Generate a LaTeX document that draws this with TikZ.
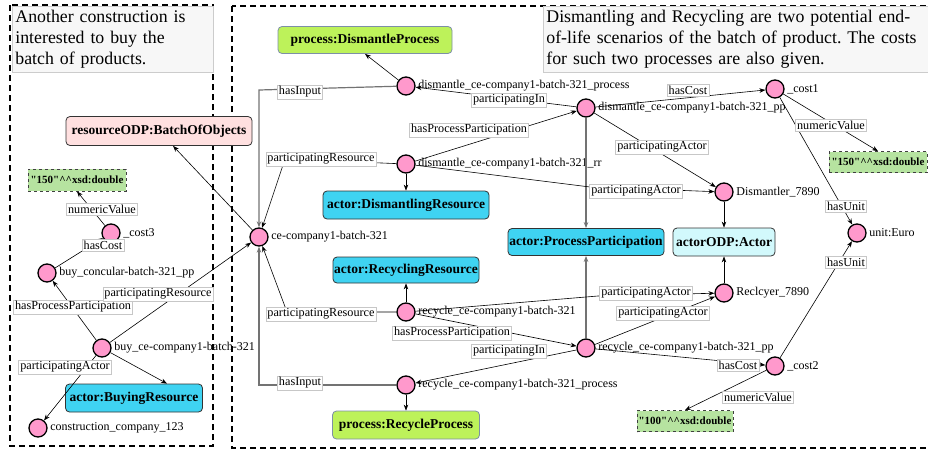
\documentclass[tikz,border=0pt]{standalone}
\usepackage{fontspec}
\setmainfont{Liberation Serif}
\usetikzlibrary{arrows.meta}
\definecolor{indpink}{HTML}{FF99CC}
\definecolor{procgreen}{HTML}{BDF25A}
\definecolor{procborder}{HTML}{7D8FA6}
\definecolor{actorblue}{HTML}{3FD3F2}
\definecolor{odpcyan}{HTML}{D2F9FC}
\definecolor{respink}{HTML}{FFE0E0}
\definecolor{litgreen}{HTML}{B6E3A0}
\definecolor{notefill}{HTML}{F7F7F7}
\definecolor{noteborder}{HTML}{CCCCCC}
\newcommand{\litq}{\textquotedbl}
\begin{document}
\frenchspacing
\begin{tikzpicture}[x=1pt,y=-1pt,
  ind/.style={circle, draw=black, line width=1.3pt, fill=indpink, minimum size=18pt, inner sep=0pt},
  ntxt/.style={font=\fontsize{12}{13}\selectfont, inner sep=1pt, label distance=1.5pt},
  elbl/.style={draw=black!22, fill=white, font=\fontsize{12.2}{13}\selectfont, inner sep=1.6pt},
  boxbase/.style={rounded corners=4pt, font=\bfseries\fontsize{13.5}{15}\selectfont, inner xsep=1pt, inner ysep=1pt},
  procbox/.style={boxbase, draw=procborder, line width=0.8pt, fill=procgreen},
  actbox/.style={boxbase, draw=black!80, line width=0.8pt, fill=actorblue},
  odpbox/.style={boxbase, draw=black!80, line width=0.8pt, fill=odpcyan},
  resbox/.style={boxbase, draw=black!80, line width=0.8pt, fill=respink},
  litbox/.style={draw=black!75, dashed, line width=0.7pt, fill=litgreen, font=\bfseries\fontsize{11}{12}\selectfont, inner sep=1pt},
  notebox/.style={draw=noteborder, fill=notefill, line width=0.8pt, align=left, font=\fontsize{17.8}{21}\selectfont, inner xsep=3pt, inner ysep=2pt},
  frame/.style={draw=black, line width=1.8pt, dash pattern=on 6pt off 4pt},
  edge/.style={draw=black, line width=0.6pt, -{Stealth[length=6pt,width=4.5pt]}},
  gedge/.style={draw=black!55, line width=1.2pt, -{Stealth[length=6pt,width=4.5pt]}}
]
\useasboundingbox (0,0) rectangle (928,450);

% frames
\draw[frame] (10,5) rectangle (213,446);
\draw[frame] (232,6) rectangle (932,448);

% notes
\node[notebox, text width=195pt, minimum height=66pt, anchor=north west] (noteL) at (12,6)
  {Another construction is\\interested to buy the\\batch of products.};
\node[notebox, text width=400pt, minimum height=66pt, anchor=north west] (noteR) at (543,6)
  {Dismantling and Recycling are two potential end-\\of-life scenarios of the batch of product. The costs\\for such two processes are also given.};

% class / literal boxes
\node[procbox, minimum width=174pt, minimum height=27pt] (dproc) at (365,40) {process:DismantleProcess};
\node[resbox, minimum width=186pt, minimum height=29pt] (batch) at (159,131) {resourceODP:BatchOfObjects};
\node[litbox, minimum width=98pt, minimum height=22pt] (litA) at (77,180) {\litq150\litq\textasciicircum\textasciicircum xsd:double};
\node[actbox, minimum width=166pt, minimum height=28pt] (dres) at (406,205) {actor:DismantlingResource};
\node[actbox, minimum width=146pt, minimum height=26pt] (rres) at (406,270) {actor:RecyclingResource};
\node[actbox, minimum width=156pt, minimum height=27pt] (ppart) at (586,242) {actor:ProcessParticipation};
\node[odpbox, minimum width=102pt, minimum height=28pt] (aodp) at (724,242) {actorODP:Actor};
\node[litbox, minimum width=98pt, minimum height=21pt] (litB) at (878,162) {\litq150\litq\textasciicircum\textasciicircum xsd:double};
\node[actbox, minimum width=137pt, minimum height=28pt] (bres) at (134,398) {actor:BuyingResource};
\node[procbox, minimum width=147pt, minimum height=28pt] (rproc) at (406,425) {process:RecycleProcess};
\node[litbox, minimum width=96pt, minimum height=21pt] (litC) at (685,421) {\litq100\litq\textasciicircum\textasciicircum xsd:double};

% individuals
\node[ind, label={[ntxt,name=dpT]right:dismantle\_ce-company1-batch-321\_process}] (dp) at (406,86) {};
\node[ind, label={[ntxt,name=dppT]right:dismantle\_ce-company1-batch-321\_pp}] (dpp) at (586,108) {};
\node[ind, label={[ntxt,name=c1T]right:\_cost1}] (c1) at (775,89) {};
\node[ind, label={[ntxt,name=drrT]right:dismantle\_ce-company1-batch-321\_rr}] (drr) at (406,164) {};
\node[ind, label={[ntxt,name=disT]right:Dismantler\_7890}] (dis) at (724,192) {};
\node[ind, label={[ntxt,name=ceT]right:ce-company1-batch-321}] (ce) at (259,237) {};
\node[ind, label={[ntxt,name=euroT]right:unit:Euro}] (euro) at (857,233) {};
\node[ind, label={[ntxt,name=c3T]right:\_cost3}] (c3) at (111,233) {};
\node[ind, label={[ntxt,name=bppT]right:buy\_concular-batch-321\_pp}] (bpp) at (47,273) {};
\node[ind, label={[ntxt,name=rcyT]right:Reclcyer\_7890}] (rcy) at (724,293) {};
\node[ind, label={[ntxt,name=rrrT]right:recycle\_ce-company1-batch-321}] (rrr) at (406,312) {};
\node[ind, label={[ntxt,name=rppT]right:recycle\_ce-company1-batch-321\_pp}] (rpp) at (586,348) {};
\node[ind, label={[ntxt,name=c2T]right:\_cost2}] (c2) at (775,366) {};
\node[ind, label={[ntxt,name=buyT]right:buy\_ce-company1-batch-321}] (buy) at (102,348) {};
\node[ind, label={[ntxt,name=rpT]right:recycle\_ce-company1-batch-321\_process}] (rp) at (406,385) {};
\node[ind, label={[ntxt,name=ccT]right:construction\_company\_123}] (cc) at (38,428) {};

% connectors
\draw[edge] (dp) -- (dproc.south);
\draw[gedge] (dp) -- (259,90) -- (ce);
\draw[gedge] (rp) -- (259,385) -- (ce);
\draw[edge] (dpp) -- (dp);
\draw[edge] (dpp) -- (c1);
\draw[edge] (dpp) -- (dis);
\draw[gedge] (dpp) -- (ppart.north);
\draw[gedge] (rpp) -- (ppart.south);
\draw[edge] (drr) -- (dpp);
\draw[edge] (drr) -- (285,159) -- (ce);
\draw[edge] (drr) -- (dres);
\draw[edge] (drr) -- (590,187) -- (dis);
\draw[edge] (dis) -- (aodp);
\draw[edge] (rcy) -- (aodp);
\draw[edge] (c1) -- (litB.north);
\draw[edge] (c1) -- (euro);
\draw[edge] (rpp) -- (c2);
\draw[edge] (c2) -- (euro);
\draw[edge] (c2) -- (litC.north);
\draw[edge] (rrr) -- (rres);
\draw[edge] (rrr) -- (287,312) -- (ce);
\draw[edge] (rrr) -- (598,296) -- (rcy);
\draw[edge] (rrr) -- (rpp);
\draw[edge] (rpp) -- (rcy);
\draw[edge] (rpp) -- (rp);
\draw[edge] (rp) -- (rproc);
\draw[edge] (ce) -- (batch);
\draw[edge] (buy) -- (ce);
\draw[edge] (buy) -- (bpp);
\draw[edge] (buy) -- ([xshift=33pt]bres.north);
\draw[edge] (buy) -- (cc);
\draw[edge] (bpp) -- (c3);
\draw[edge] (c3) -- (litA.south);

% connector labels
\node[elbl] (l1) at (300,92) {hasInput};
\node[elbl] (l2) at (300,383) {hasInput};
\node[elbl] (l3) at (509,100) {participatingIn};
\node[elbl] (l4) at (509,351) {participatingIn};
\node[elbl] (l5) at (688,90) {hasCost};
\node[elbl] (l6) at (738,365) {hasCost};
\node[elbl] (l7) at (103,245) {hasCost};
\node[elbl] (l8) at (662,147) {participatingActor};
\node[elbl] (l9) at (636,191) {participatingActor};
\node[elbl] (l10) at (646,293) {participatingActor};
\node[elbl] (l11) at (663,313) {participatingActor};
\node[elbl] (l12) at (65,367) {participatingActor};
\node[elbl] (l13) at (469,130) {hasProcessParticipation};
\node[elbl] (l14) at (452,333) {hasProcessParticipation};
\node[elbl] (l15) at (73,307) {hasProcessParticipation};
\node[elbl] (l16) at (321,159) {participatingResource};
\node[elbl] (l17) at (321,314) {participatingResource};
\node[elbl] (l18) at (158,294) {participatingResource};
\node[elbl] (l19) at (831,125) {numericValue};
\node[elbl] (l20) at (758,397) {numericValue};
\node[elbl] (l21) at (102,209) {numericValue};
\node[elbl] (l22) at (846,206) {hasUnit};
\node[elbl] (l23) at (846,262) {hasUnit};
\end{tikzpicture}
\end{document}
